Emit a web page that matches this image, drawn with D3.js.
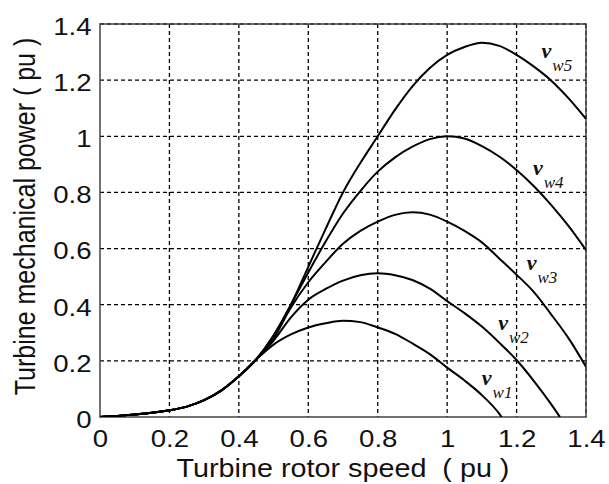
<!DOCTYPE html>
<html>
<head>
<meta charset="utf-8">
<script src="https://cdn.jsdelivr.net/npm/d3@7"></script>
<style>
  body { margin: 0; background: #fff; }
  svg { display: block; }
</style>
</head>
<body>
<div id="chart"></div>
<script>
// rotor speed grid (pu)
var speed = [0, 0.05, 0.1, 0.15, 0.2, 0.25, 0.3, 0.35, 0.4, 0.45,
    0.5, 0.55, 0.6, 0.65, 0.7, 0.75, 0.8, 0.85, 0.9, 0.95,
    1.0, 1.05, 1.1, 1.15, 1.2, 1.25, 1.3, 1.35, 1.4];

// mechanical power (pu) per wind speed
var low = [0, 0.004, 0.009, 0.015, 0.024, 0.037, 0.06, 0.095, 0.145, 0.205];
var pw1 = low.concat([0.258, 0.294, 0.319, 0.334, 0.343, 0.338, 0.319, 0.296, 0.262, 0.224,
    0.176, 0.13, 0.078, 0.012, null, null, null, null, null]);
var pw2 = low.concat([0.272, 0.355, 0.418, 0.456, 0.486, 0.505, 0.512, 0.505, 0.488, 0.457,
    0.413, 0.37, 0.322, 0.265, 0.203, 0.128, 0.045, null, null]);
var pw3 = low.concat([0.28, 0.39, 0.48, 0.552, 0.617, 0.663, 0.696, 0.72, 0.729, 0.721,
    0.696, 0.663, 0.622, 0.565, 0.507, 0.445, 0.365, 0.28, 0.179]);
var pw4 = low.concat([0.29, 0.40, 0.515, 0.625, 0.725, 0.805, 0.874, 0.925, 0.963, 0.99,
    1.0, 0.992, 0.965, 0.928, 0.88, 0.822, 0.755, 0.68, 0.595]);
var pw5 = low.concat([0.29, 0.40, 0.535, 0.67, 0.80, 0.905, 1.0, 1.095, 1.178, 1.243,
    1.29, 1.318, 1.333, 1.322, 1.29, 1.248, 1.198, 1.135, 1.062]);

// speed where the curve reaches zero power (null = still above zero at 1.4)
var stallSpeed = [1.157, 1.325, null, null, null];

var seriesNames = ["w1", "w2", "w3", "w4", "w5"];
var xTicks = [0, 0.2, 0.4, 0.6, 0.8, 1, 1.2, 1.4];
var yTicks = [0, 0.2, 0.4, 0.6, 0.8, 1, 1.2, 1.4];

// label anchors (data units) for the v_w annotations
var labelSpeed = [1.10, 1.147, 1.229, 1.247, 1.272];
var labelPower = [0.114, 0.31, 0.524, 0.862, 1.278];

var W = 609, H = 484;
var margin = { top: 24, right: 23, bottom: 67, left: 100 },
    width = W - margin.left - margin.right,
    height = H - margin.top - margin.bottom;

// the picture is a bit wider than tall, so text is stretched sideways
var stretch = "scale(1.2,1)";

var svg = d3.select("#chart")
    .append("svg")
    .attr("width", W)
    .attr("height", H)
    .style("font-family", "'Liberation Sans', Arial, sans-serif");

var g = svg.append("g")
    .attr("transform", "translate(" + margin.left + "," + margin.top + ")");

var x = d3.scaleLinear().domain([0, 1.4]).range([0, width]);
var y = d3.scaleLinear().domain([0, 1.4]).range([height, 0]);

// grid
g.append("g")
    .selectAll("line")
    .data(xTicks.slice(1))
    .join("line")
    .attr("x1", d => x(d)).attr("x2", d => x(d))
    .attr("y1", 0).attr("y2", height)
    .attr("stroke", "#000")
    .attr("stroke-width", 1.3)
    .attr("stroke-dasharray", "4,3");

g.append("g")
    .selectAll("line")
    .data(yTicks.slice(1))
    .join("line")
    .attr("y1", d => y(d)).attr("y2", d => y(d))
    .attr("x1", 0).attr("x2", width)
    .attr("stroke", "#000")
    .attr("stroke-width", 1.3)
    .attr("stroke-dasharray", "4,3");

// frame
g.append("rect")
    .attr("width", width)
    .attr("height", height)
    .attr("fill", "none")
    .attr("stroke", "#444")
    .attr("stroke-width", 1.5);

// axes labels via d3 axes, no tick lines
var xAxis = g.append("g")
    .attr("transform", "translate(0," + height + ")")
    .call(d3.axisBottom(x).tickValues(xTicks).tickSize(0).tickPadding(14)
        .tickFormat(d3.format("~g")));
var yAxis = g.append("g")
    .call(d3.axisLeft(y).tickValues(yTicks).tickSize(0).tickPadding(7)
        .tickFormat(d3.format("~g")));

[xAxis, yAxis].forEach(function (a) {
    a.select(".domain").remove();
    a.selectAll("text")
        .attr("fill", "#111")
        .attr("transform", stretch)
        .style("font-size", "23px")
        .style("font-family", "'Liberation Sans', Arial, sans-serif");
});
yAxis.selectAll("text").attr("dy", "0.45em");

// curves
var clipId = "plotclip";
g.append("clipPath").attr("id", clipId)
    .append("rect").attr("width", width).attr("height", height);

var line = d3.line()
    .defined(d => d[1] !== null)
    .x(d => x(d[0]))
    .y(d => y(d[1]))
    .curve(d3.curveMonotoneX);

[pw1, pw2, pw3, pw4, pw5].forEach(function (vals, i) {
    var pts = speed.map((s, j) => [s, vals[j]]).filter(p => p[1] !== null);
    if (stallSpeed[i] !== null) pts.push([stallSpeed[i], 0]);
    g.append("path")
        .datum(pts)
        .attr("clip-path", "url(#" + clipId + ")")
        .attr("fill", "none")
        .attr("stroke", "#000")
        .attr("stroke-width", 2)
        .attr("d", line);
});

// v_w annotations
seriesNames.forEach(function (name, i) {
    var t = g.append("text")
        .attr("x", x(labelSpeed[i]))
        .attr("y", y(labelPower[i]))
        .attr("fill", "#111")
        .style("font-family", "'Liberation Serif', 'Times New Roman', serif")
        .style("font-style", "italic");
    t.append("tspan")
        .style("font-size", "22px")
        .style("font-weight", "bold")
        .text("v");
    t.append("tspan")
        .attr("dx", 1)
        .attr("dy", 13)
        .style("font-size", "17px")
        .text(name);
});

// axis titles
svg.append("text")
    .attr("transform", "translate(" + (margin.left + width / 2) + ",477) scale(1.15,1)")
    .attr("text-anchor", "middle")
    .attr("fill", "#111")
    .style("font-size", "25px")
    .text("Turbine rotor speed\u00a0 ( pu )");

svg.append("text")
    .attr("transform", "translate(35," + (margin.top + height / 2 - 4) + ") " + stretch + " rotate(-90)")
    .attr("text-anchor", "middle")
    .attr("fill", "#111")
    .style("font-size", "25px")
    .text("Turbine mechanical power ( pu )");
</script>
</body>
</html>
